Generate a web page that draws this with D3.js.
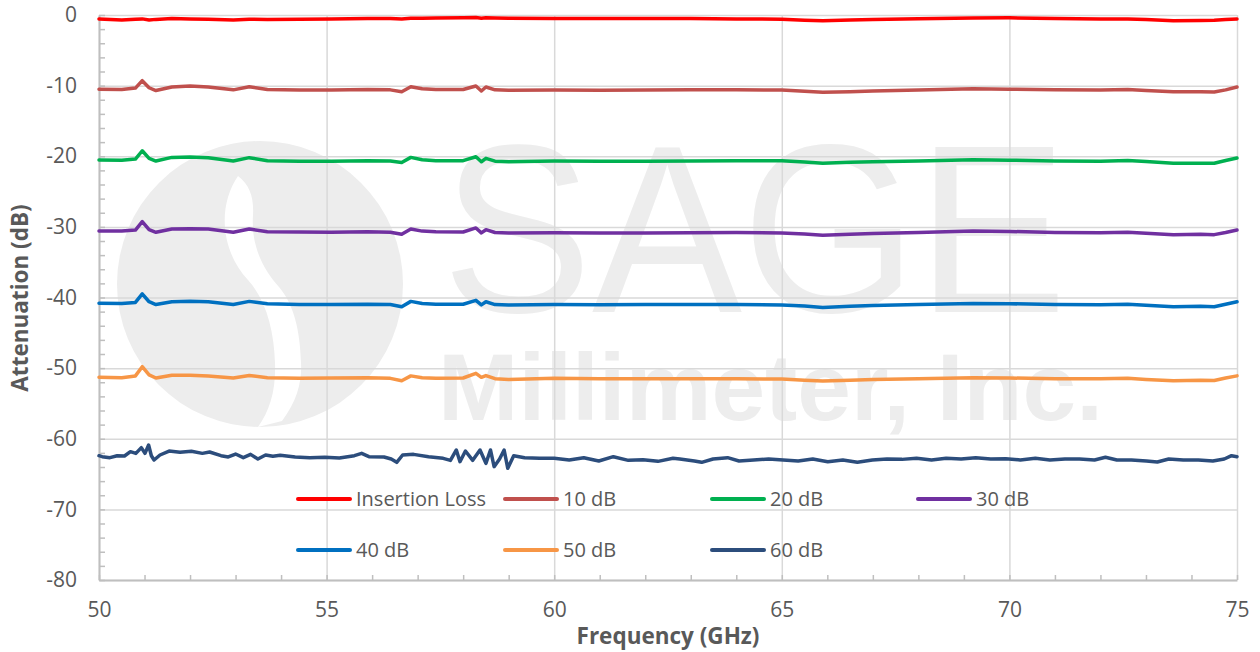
<!DOCTYPE html>
<html>
<head>
<meta charset="utf-8">
<script src="https://cdn.jsdelivr.net/npm/d3@7/dist/d3.min.js"></script>
<style>
  html, body { margin: 0; padding: 0; background: #ffffff; }
  svg { display: block; }
  text { font-family: "Open Sans", "Noto Sans", sans-serif; fill: #595959; }
</style>
</head>
<body>
<svg id="chart"></svg>
<script>
// frequency points (GHz) shared by the smooth traces
const FREQ = [50.0, 50.5, 50.8, 50.95, 51.1, 51.25, 51.6, 52.0, 52.4, 52.95, 53.3, 53.7,
  54.4, 55.1, 55.9, 56.4, 56.65, 56.85, 57.1, 57.4, 58.0, 58.28, 58.4, 58.5, 58.7, 59.0,
  60.0, 61.0, 62.0, 63.0, 64.0, 65.0, 65.5, 65.9, 66.5, 67.0, 68.0, 69.2, 70.0, 71.0,
  72.0, 72.6, 73.0, 73.6, 74.2, 74.5, 74.75, 75.0];

const INSERTION_LOSS = [-0.55, -0.72, -0.6, -0.55, -0.7, -0.62, -0.5, -0.55, -0.6, -0.7, -0.6, -0.65,
  -0.6, -0.55, -0.5, -0.5, -0.55, -0.45, -0.45, -0.42, -0.4, -0.36, -0.45, -0.38, -0.42, -0.45,
  -0.48, -0.5, -0.48, -0.5, -0.55, -0.6, -0.75, -0.82, -0.72, -0.65, -0.52, -0.42, -0.4, -0.5,
  -0.55, -0.55, -0.65, -0.8, -0.78, -0.75, -0.65, -0.57];

const ATT_10 = [-10.52, -10.55, -10.35, -9.3, -10.3, -10.7, -10.2, -10.06, -10.2, -10.6, -10.15, -10.55,
  -10.62, -10.62, -10.55, -10.6, -10.86, -10.15, -10.45, -10.55, -10.55, -10.06, -10.76, -10.2, -10.6, -10.65,
  -10.62, -10.65, -10.62, -10.6, -10.6, -10.62, -10.8, -10.95, -10.85, -10.75, -10.62, -10.44, -10.5, -10.6,
  -10.62, -10.55, -10.7, -10.88, -10.85, -10.9, -10.6, -10.2];

const ATT_20 = [-20.54, -20.56, -20.4, -19.22, -20.3, -20.68, -20.16, -20.1, -20.2, -20.68, -20.2, -20.63,
  -20.72, -20.72, -20.63, -20.68, -20.9, -20.16, -20.5, -20.63, -20.62, -20.07, -20.78, -20.3, -20.7, -20.78,
  -20.68, -20.72, -20.7, -20.66, -20.64, -20.63, -20.8, -21.0, -20.85, -20.78, -20.66, -20.5, -20.56, -20.68,
  -20.7, -20.6, -20.75, -21.0, -20.98, -21.0, -20.6, -20.25];

const ATT_30 = [-30.58, -30.6, -30.45, -29.26, -30.4, -30.77, -30.3, -30.25, -30.3, -30.77, -30.3, -30.7,
  -30.73, -30.75, -30.7, -30.75, -31.05, -30.3, -30.6, -30.7, -30.72, -30.15, -30.85, -30.4, -30.8, -30.85,
  -30.83, -30.85, -30.85, -30.82, -30.8, -30.85, -31.0, -31.2, -31.05, -30.95, -30.8, -30.6, -30.65, -30.8,
  -30.82, -30.75, -30.9, -31.1, -31.05, -31.1, -30.8, -30.45];

const ATT_40 = [-40.83, -40.85, -40.7, -39.5, -40.6, -41.0, -40.6, -40.54, -40.6, -41.0, -40.55, -40.9,
  -41.0, -41.0, -40.95, -41.0, -41.3, -40.55, -40.85, -40.95, -40.95, -40.4, -41.05, -40.6, -41.0, -41.05,
  -40.98, -41.02, -41.0, -41.0, -41.0, -41.05, -41.2, -41.4, -41.25, -41.15, -41.0, -40.84, -40.88, -41.0,
  -41.02, -40.95, -41.1, -41.3, -41.25, -41.3, -40.95, -40.6];

const ATT_50 = [-51.3, -51.35, -51.1, -49.8, -50.95, -51.4, -51.0, -51.0, -51.1, -51.4, -51.05, -51.35,
  -51.42, -51.4, -51.35, -51.45, -51.78, -51.1, -51.35, -51.45, -51.4, -50.74, -51.3, -51.05, -51.5, -51.6,
  -51.45, -51.5, -51.52, -51.5, -51.5, -51.55, -51.7, -51.82, -51.7, -51.62, -51.5, -51.35, -51.4, -51.5,
  -51.52, -51.45, -51.6, -51.8, -51.72, -51.75, -51.4, -51.1];

// the 60 dB trace is noisy, so it has its own denser set of points
const FREQ_60 = [50.0, 50.07, 50.24, 50.4, 50.56, 50.69, 50.81, 50.93, 51.01, 51.09, 51.15, 51.21,
  51.34, 51.54, 51.78, 52.03, 52.27, 52.43, 52.68, 52.84, 53.0, 53.17, 53.33, 53.49, 53.66, 53.82,
  53.98, 54.31, 54.63, 54.96, 55.28, 55.61, 55.77, 55.93, 56.26, 56.42, 56.54, 56.67, 56.91, 57.24,
  57.56, 57.72, 57.85, 57.93, 58.05, 58.21, 58.37, 58.5, 58.6, 58.68, 58.8, 58.9, 58.98, 59.11,
  59.35, 59.68, 60.0, 60.33, 60.65, 60.98, 61.3, 61.63, 61.95, 62.28, 62.61, 62.76, 63.08, 63.24,
  63.49, 63.81, 64.06, 64.38, 64.71, 65.03, 65.36, 65.68, 66.01, 66.34, 66.66, 66.99, 67.31, 67.64,
  67.96, 68.29, 68.61, 68.94, 69.26, 69.59, 69.92, 70.24, 70.57, 70.89, 71.22, 71.54, 71.87, 72.11,
  72.36, 72.68, 73.01, 73.25, 73.5, 73.82, 74.15, 74.47, 74.72, 74.88, 75.0];

const ATT_60 = [-62.4, -62.54, -62.68, -62.4, -62.44, -61.83, -62.07, -61.26, -62.07, -60.89, -62.4, -63.01,
  -62.3, -61.74, -61.92, -61.78, -62.07, -61.88, -62.4, -62.58, -62.16, -62.68, -62.21, -62.87, -62.3, -62.49,
  -62.35, -62.58, -62.68, -62.63, -62.73, -62.4, -62.07, -62.54, -62.58, -62.87, -63.34, -62.3, -62.21, -62.54,
  -62.77, -63.06, -61.59, -63.25, -61.74, -63.06, -61.59, -63.48, -61.59, -63.95, -62.87, -61.59, -64.19, -62.4,
  -62.68, -62.77, -62.77, -63.01, -62.68, -63.15, -62.54, -63.06, -62.96, -63.2, -62.77, -62.87, -63.15, -63.34,
  -62.87, -62.68, -63.15, -63.01, -62.87, -63.01, -63.15, -62.87, -63.25, -63.01, -63.34, -63.01, -62.87, -62.92,
  -62.77, -63.01, -62.77, -62.87, -62.68, -62.87, -62.82, -63.01, -62.77, -63.01, -62.87, -62.87, -63.01, -62.63,
  -63.01, -63.01, -63.15, -63.29, -62.87, -63.01, -63.01, -63.15, -62.87, -62.4, -62.54];

const SERIES_NAMES = ['Insertion Loss', '10 dB', '20 dB', '30 dB', '40 dB', '50 dB', '60 dB'];
const SERIES_COLORS = ['#ff0000', '#c0504d', '#00b050', '#7030a0', '#0070c0', '#f79646', '#2c4d7c'];
const X_TICKS = [50, 55, 60, 65, 70, 75];
const Y_TICKS = [0, -10, -20, -30, -40, -50, -60, -70, -80];

const W = 1260, H = 652;
const margin = { left: 99, right: 23, top: 15, bottom: 72 };

const series = [
  { x: FREQ, y: INSERTION_LOSS },
  { x: FREQ, y: ATT_10 },
  { x: FREQ, y: ATT_20 },
  { x: FREQ, y: ATT_30 },
  { x: FREQ, y: ATT_40 },
  { x: FREQ, y: ATT_50 },
  { x: FREQ_60, y: ATT_60 }
].map((s, i) => ({
  name: SERIES_NAMES[i],
  color: SERIES_COLORS[i],
  points: s.x.map((f, j) => [f, s.y[j]])
}));

const svg = d3.select('#chart').attr('width', W).attr('height', H);

const x = d3.scaleLinear().domain([50, 75]).range([margin.left, W - margin.right]);
const y = d3.scaleLinear().domain([-80, 0]).range([H - margin.bottom, margin.top]);

// Watermark (logo + company name)
const wm = svg.append('g').attr('class', 'watermark');
wm.append('circle').attr('cx', 260).attr('cy', 284).attr('r', 143).attr('fill', '#ededed');
wm.append('path')
  .attr('d', 'M 238 176 C 218 205, 220 250, 248 280 C 266 300, 274 330, 275 363 C 276 390, 270 410, 258 427 ' +
             'L 282 421 C 298 400, 302 380, 301 363 C 300 330, 294 305, 279 287 C 262 268, 251 245, 253 215 ' +
             'C 254 198, 250 185, 238 176 Z')
  .attr('fill', '#ffffff');
wm.append('text')
  .attr('x', 442).attr('y', 312)
  .attr('textLength', 625).attr('lengthAdjust', 'spacingAndGlyphs')
  .style('font-family', '"Liberation Sans", Arial, sans-serif')
  .style('font-size', '240px')
  .style('fill', '#ededed')
  .text('SAGE');
wm.append('text')
  .attr('x', 438).attr('y', 420)
  .attr('textLength', 665).attr('lengthAdjust', 'spacingAndGlyphs')
  .style('font-family', '"Liberation Sans", Arial, sans-serif')
  .style('font-size', '94px')
  .style('font-weight', 'bold')
  .style('fill', '#ededed')
  .text('Millimeter, Inc.');

// Gridlines
svg.append('g')
  .attr('transform', `translate(0,${H - margin.bottom})`)
  .call(d3.axisBottom(x).tickValues(X_TICKS).tickSize(-(H - margin.top - margin.bottom)).tickFormat(''))
  .call(g => g.select('.domain').remove())
  .call(g => g.selectAll('line').attr('stroke', '#d9d9d9').attr('stroke-width', 1.5));

svg.append('g')
  .attr('transform', `translate(${margin.left},0)`)
  .call(d3.axisLeft(y).tickValues(Y_TICKS).tickSize(-(W - margin.left - margin.right)).tickFormat(''))
  .call(g => g.select('.domain').remove())
  .call(g => g.selectAll('line').attr('stroke', '#d9d9d9').attr('stroke-width', 1.5));

// Minor tick marks (inside)
svg.append('g')
  .attr('transform', `translate(${margin.left},0)`)
  .call(d3.axisRight(y).ticks(40).tickSize(6).tickFormat(''))
  .call(g => g.select('.domain').remove())
  .call(g => g.selectAll('line').attr('stroke', '#bfbfbf').attr('stroke-width', 1.5));

svg.append('g')
  .attr('transform', `translate(0,${H - margin.bottom})`)
  .call(d3.axisTop(x).ticks(25).tickSize(5).tickFormat(''))
  .call(g => g.select('.domain').remove())
  .call(g => g.selectAll('line').attr('stroke', '#bfbfbf').attr('stroke-width', 1.5));

// Axis lines + labels (plain hyphen for negatives, as in the original)
const yAxis = svg.append('g')
  .attr('transform', `translate(${margin.left},0)`)
  .call(d3.axisLeft(y).tickValues(Y_TICKS).tickSize(0).tickPadding(22).tickFormat(d => String(d)));
yAxis.select('.domain').attr('stroke', '#bfbfbf').attr('stroke-width', 2);
yAxis.selectAll('text').style('font-size', '21px').style('fill', '#595959');

const xAxis = svg.append('g')
  .attr('transform', `translate(0,${H - margin.bottom})`)
  .call(d3.axisBottom(x).tickValues(X_TICKS).tickSize(0).tickPadding(22).tickFormat(d => String(d)));
xAxis.select('.domain').attr('stroke', '#bfbfbf').attr('stroke-width', 2);
xAxis.selectAll('text').style('font-size', '21px').style('fill', '#595959');

svg.append('text')
  .attr('transform', 'translate(28,298) rotate(-90)')
  .attr('text-anchor', 'middle')
  .style('font-size', '22.5px').style('font-weight', 'bold')
  .text('Attenuation (dB)');

svg.append('text')
  .attr('x', 668).attr('y', 644)
  .attr('text-anchor', 'middle')
  .style('font-size', '22.5px').style('font-weight', 'bold')
  .text('Frequency (GHz)');

// Lines
const line = d3.line().x(d => x(d[0])).y(d => y(d[1]));
svg.append('g')
  .selectAll('path')
  .data(series)
  .enter()
  .append('path')
  .attr('d', d => line(d.points))
  .attr('fill', 'none')
  .attr('stroke', d => d.color)
  .attr('stroke-width', 3.5)
  .attr('stroke-linejoin', 'round')
  .attr('stroke-linecap', 'round');

// Legend (inside plot, no box)
const legendCols = [298, 505, 712, 918];
const legendRows = [499, 550];
const legend = svg.append('g');
series.forEach((s, i) => {
  const lx = legendCols[i < 4 ? i : i - 4];
  const ly = legendRows[i < 4 ? 0 : 1];
  legend.append('line')
    .attr('x1', lx).attr('x2', lx + 52)
    .attr('y1', ly).attr('y2', ly)
    .attr('stroke', s.color).attr('stroke-width', 4).attr('stroke-linecap', 'round');
  legend.append('text')
    .attr('x', lx + 58).attr('y', ly)
    .attr('dy', '0.35em')
    .style('font-size', '20px')
    .text(s.name);
});
</script>
</body>
</html>
